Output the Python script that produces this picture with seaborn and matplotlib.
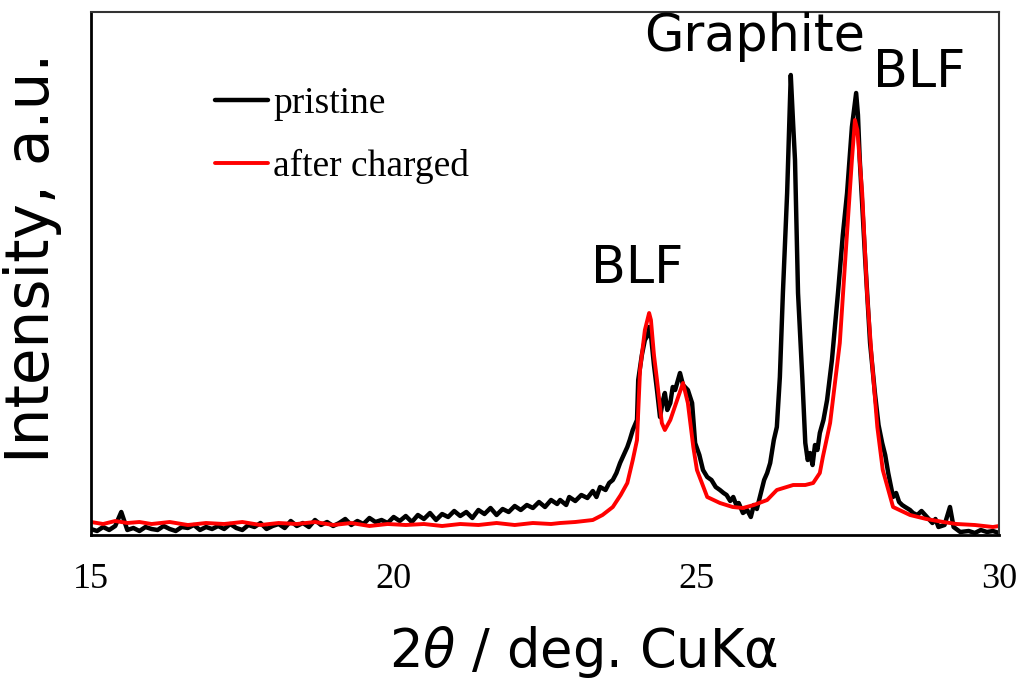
import matplotlib
matplotlib.use("Agg")
import matplotlib.pyplot as plt
import seaborn as sns
import pandas as pd

# ---- data (intensity in arbitrary units) ----
pristine_x = [
    15.0, 15.1, 15.2, 15.3, 15.4, 15.5, 15.6, 15.7, 15.8, 15.9, 16.0,
    16.1, 16.2, 16.3, 16.4, 16.5, 16.6, 16.7, 16.8, 16.9, 17.0,
    17.1, 17.2, 17.3, 17.4, 17.5, 17.6, 17.7, 17.8, 17.9, 18.0,
    18.1, 18.2, 18.3, 18.4, 18.5, 18.6, 18.7, 18.8, 18.9, 19.0,
    19.1, 19.2, 19.3, 19.4, 19.5, 19.6, 19.7, 19.8, 19.9, 20.0,
    20.1, 20.2, 20.3, 20.4, 20.5, 20.6, 20.7, 20.8, 20.9, 21.0,
    21.1, 21.2, 21.3, 21.4, 21.5, 21.6, 21.7, 21.8, 21.9, 22.0,
    22.1, 22.2, 22.3, 22.4, 22.5, 22.6, 22.7,
    22.75, 22.85, 22.9, 23.0, 23.1, 23.2, 23.29, 23.35, 23.41, 23.5, 23.56, 23.62,
    23.68, 23.74, 23.8, 23.86, 23.9, 23.95, 24.02, 24.04, 24.1, 24.15, 24.2, 24.22,
    24.25, 24.3, 24.35, 24.4, 24.45, 24.48, 24.52, 24.57, 24.61, 24.65, 24.73, 24.78,
    24.86, 24.93, 24.98, 25.05, 25.11, 25.18, 25.25, 25.32, 25.39, 25.45, 25.5, 25.56, 25.61,
    25.66, 25.7, 25.77, 25.84, 25.9, 25.95, 26.0, 26.05, 26.12, 26.17, 26.22, 26.28, 26.33,
    26.38, 26.43, 26.5, 26.56, 26.6, 26.63, 26.68, 26.75, 26.8, 26.84,
    26.88, 26.92, 26.96, 27.0, 27.04, 27.1, 27.16, 27.24, 27.34, 27.42, 27.49, 27.57,
    27.64, 27.67, 27.7, 27.79, 27.87, 27.95, 28.01, 28.07, 28.12, 28.17, 28.25, 28.3, 28.35,
    28.4, 28.45, 28.53, 28.58, 28.65, 28.72, 28.81, 28.9, 28.95, 29.0, 29.1, 29.19, 29.25, 29.36,
    29.5, 29.6, 29.7, 29.8, 29.9, 30.0,
]
pristine_y = [
    6, 4, 8, 5, 9, 23, 5, 7, 4, 8, 6,
    5, 9, 6, 4, 8, 7, 10, 5, 8, 6,
    9, 6, 11, 7, 5, 10, 8, 12, 6, 9,
    11, 7, 14, 9, 12, 8, 15, 10, 13, 9,
    12, 16, 10, 14, 11, 17, 13, 15, 12, 18,
    14, 19, 13, 20, 16, 22, 15, 21, 18, 24,
    19, 23, 17, 25, 21, 27, 20, 26, 23, 29,
    25, 30, 27, 33, 28, 35, 31,
    35, 30, 38, 34, 40, 37, 44, 38, 48, 45, 52, 55,
    62, 72, 80, 88, 95, 105, 115, 155, 180, 195, 200, 208,
    200, 170, 145, 118, 135, 142, 125, 132, 148, 145, 162, 150,
    145, 132, 92, 80, 65, 58, 55, 48, 45, 42, 40, 34, 38,
    30, 32, 22, 25, 18, 30, 26, 38, 55, 62, 72, 95, 108,
    158, 242, 342, 460, 410, 375, 242, 158, 92, 75,
    82, 70, 90, 85, 102, 115, 135, 175, 242, 300, 342, 408,
    442, 420, 375, 275, 192, 142, 110, 92, 80, 62, 38, 42, 33,
    30, 28, 25, 22, 20, 24, 18, 12, 16, 8, 10, 28, 8, 3,
    4, 2, 5, 3, 4, 2,
]

charged_x = [
    15.0, 15.2, 15.4, 15.6, 15.8, 16.0, 16.3, 16.6, 16.9, 17.2, 17.5,
    17.8, 18.1, 18.4, 18.7, 19.0, 19.3, 19.6, 19.9, 20.2, 20.5, 20.8,
    21.1, 21.4, 21.7, 22.0, 22.3, 22.6, 22.75, 23.0, 23.29, 23.45,
    23.62, 23.75, 23.86, 23.95, 24.02, 24.07, 24.15, 24.22, 24.25, 24.3,
    24.35, 24.43, 24.48, 24.57, 24.7, 24.78, 24.86, 24.95, 25.01, 25.18,
    25.39, 25.6, 25.77, 25.95, 26.17, 26.33, 26.6, 26.8, 26.93, 27.04,
    27.09, 27.21, 27.37, 27.46, 27.57, 27.62, 27.66, 27.74, 27.82, 27.9,
    27.99, 28.08, 28.25, 28.53, 28.8, 29.08, 29.3, 29.6, 29.9, 30.0,
]
charged_y = [
    13, 11, 14, 12, 13, 11, 13, 10, 12, 11, 13,
    10, 12, 11, 13, 10, 12, 9, 11, 10, 11, 9,
    11, 10, 12, 10, 12, 11, 12, 13, 15, 20,
    28, 40, 52, 75, 95, 165, 205, 222, 215, 180,
    155, 112, 105, 115, 138, 152, 132, 88, 65, 38,
    32, 28, 27, 30, 35, 45, 50, 50, 52, 62,
    78, 112, 192, 275, 375, 415, 405, 342, 242, 175,
    108, 65, 28, 20, 16, 13, 11, 10, 8, 9,
]

xticks = [15, 20, 25, 30]
labels = ["pristine", "after charged"]
colors = ["#000000", "#ff0000"]
peak_labels = [("BLF", 24.02, 266), ("Graphite", 25.97, 498), ("BLF", 28.68, 462)]

# ---- figure ----
sns.set_theme(style="white")
plt.rcParams["font.family"] = ["DejaVu Sans"]
plt.rcParams["text.color"] = "black"
plt.rcParams["axes.labelcolor"] = "black"
plt.rcParams["xtick.color"] = "black"
plt.rcParams["ytick.color"] = "black"

fig = plt.figure(figsize=(10.2, 6.81), dpi=100)
ax = fig.add_axes([91 / 1020, 1 - 535 / 681, 908 / 1020, 523 / 681])

df1 = pd.DataFrame({"x": pristine_x, "y": pristine_y})
df2 = pd.DataFrame({"x": charged_x, "y": charged_y})
sns.lineplot(data=df1, x="x", y="y", ax=ax, color=colors[0], lw=3.2,
             sort=False, estimator=None, label=labels[0])
sns.lineplot(data=df2, x="x", y="y", ax=ax, color=colors[1], lw=2.8,
             sort=False, estimator=None, label=labels[1])

ax.set_xlim(15, 30)
ax.set_ylim(0, 523)
ax.set_xticks(xticks)
ax.set_yticks([])
ax.tick_params(axis="x", direction="in", length=8, width=1, color="black",
               labelcolor="black", pad=20, labelsize=26)
for lab in ax.get_xticklabels():
    lab.set_fontfamily("Liberation Serif")

for side in ["left", "bottom"]:
    ax.spines[side].set_color("black")
    ax.spines[side].set_linewidth(2.0)
for side in ["top", "right"]:
    ax.spines[side].set_color("#333333")
    ax.spines[side].set_linewidth(1.5)

ax.set_xlabel(r"2$\theta$ / deg. CuKα", fontsize=38, color="black")
ax.set_ylabel("Intensity, a.u.", fontsize=43, color="black")
ax.xaxis.set_label_coords(0.542, -0.17)
ax.yaxis.set_label_coords(-0.032, 0.53)

for txt, xx, yy in peak_labels:
    ax.text(xx, yy, txt, fontsize=36.5, ha="center", va="center", color="black")

leg = ax.legend(loc="upper left", bbox_to_anchor=(0.1366, 0.858), frameon=False,
                borderpad=0, borderaxespad=0, handlelength=1.4,
                handletextpad=0.15, labelspacing=0.75,
                prop={"family": "Liberation Serif", "size": 27})
for t in leg.get_texts():
    t.set_color("black")

fig.savefig("out.png", dpi=100)
